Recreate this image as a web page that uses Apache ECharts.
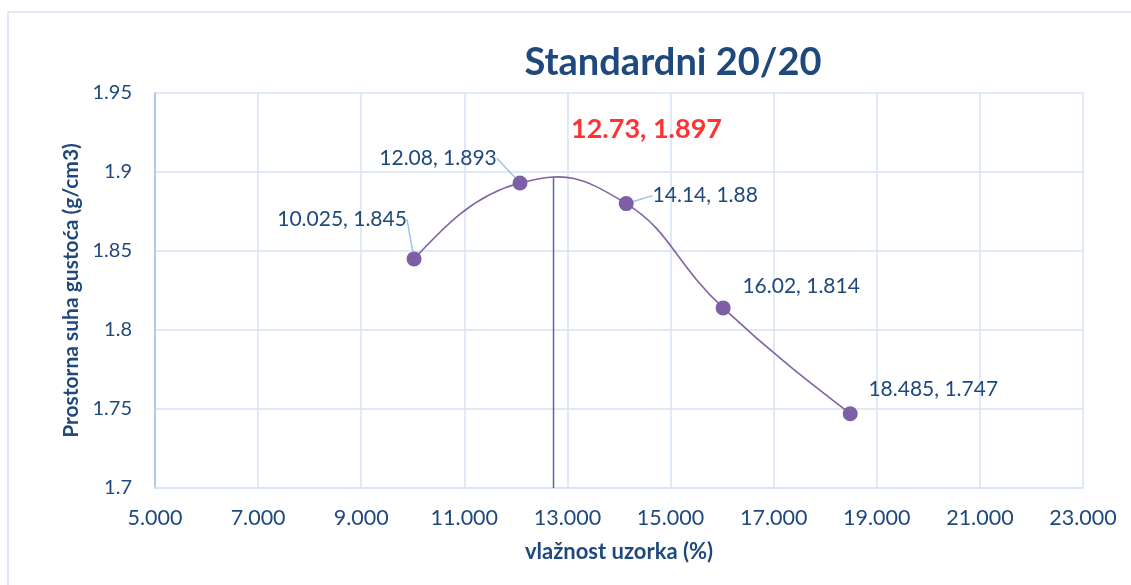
<!DOCTYPE html>
<html><head><meta charset="utf-8">
<script src="https://cdn.jsdelivr.net/npm/echarts@6/dist/echarts.min.js"></script>
<style>html,body{margin:0;padding:0;background:#fff}#c{width:1131px;height:585px}</style>
</head><body><div id="c"></div>
<script>
// ---- data ----
const moisture = [10.025, 12.08, 14.14, 16.02, 18.485];
const density = [1.845, 1.893, 1.88, 1.814, 1.747];
const pointLabels = ['10.025, 1.845', '12.08, 1.893', '14.14, 1.88', '16.02, 1.814', '18.485, 1.747'];
const optimumMoisture = 12.73;
const optimumDensity = 1.897;
const optimumLabel = '12.73, 1.897';
const xMin = 5, xMax = 23, xStep = 2;
const yMin = 1.7, yMax = 1.95, yStep = 0.05;
const titleText = 'Standardni 20/20';
const xName = 'vlažnost uzorka (%)';
const yName = 'Prostorna suha gustoća (g/cm3)';

// ---- styling ----
const TXT = '#1f497d';
const FONT = 'Lato';
const labelOffsets = [[-72, -40], [-82, -25], [79, -8], [78, -22], [83, -25]];
const showLeader = [true, true, true, false, false];
const TENSION = 0.22;

const chart = echarts.init(document.getElementById('c'), null, {renderer: 'canvas'});
const pts = moisture.map((x, i) => ({
  value: [x, density[i]],
  label: {formatter: pointLabels[i]},
  labelLine: {show: showLeader[i]}
}));

// Excel-like smoothed curve through the data points (drawn in pixel space via the axes)
function renderCurve(params, api) {
  if (params.dataIndex !== 0) return null;
  const P = moisture.map((x, i) => api.coord([x, density[i]]));
  const n = P.length;
  const m = [];
  for (let i = 1; i < n - 1; i++) {
    m[i] = [3 * TENSION * (P[i + 1][0] - P[i - 1][0]), 3 * TENSION * (P[i + 1][1] - P[i - 1][1])];
  }
  m[0] = [(3 * (P[1][0] - P[0][0]) - m[1][0]) / 2, (3 * (P[1][1] - P[0][1]) - m[1][1]) / 2];
  m[n - 1] = [(3 * (P[n - 1][0] - P[n - 2][0]) - m[n - 2][0]) / 2, (3 * (P[n - 1][1] - P[n - 2][1]) - m[n - 2][1]) / 2];
  let d = 'M' + P[0][0] + ' ' + P[0][1];
  for (let i = 0; i < n - 1; i++) {
    const c1 = [P[i][0] + m[i][0] / 3, P[i][1] + m[i][1] / 3];
    const c2 = [P[i + 1][0] - m[i + 1][0] / 3, P[i + 1][1] - m[i + 1][1] / 3];
    d += ' C' + c1[0] + ' ' + c1[1] + ' ' + c2[0] + ' ' + c2[1] + ' ' + P[i + 1][0] + ' ' + P[i + 1][1];
  }
  return {
    type: 'path',
    shape: {pathData: d},
    style: {fill: null, stroke: '#8064a2', lineWidth: 1.6}
  };
}

chart.setOption({
  backgroundColor: '#fff',
  animation: false,
  graphic: [{
    type: 'rect', shape: {x: 8, y: 12, width: 1300, height: 800},
    style: {fill: 'none', stroke: '#d9e2f3', lineWidth: 1.5}, silent: true, z: -10
  }],
  title: {
    text: titleText, left: 668, top: 39, textAlign: 'center',
    textStyle: {fontFamily: FONT, fontWeight: 'bold', fontSize: 38, color: TXT}
  },
  grid: {left: 155, right: 48, top: 93, bottom: 97},
  xAxis: {
    type: 'value', min: xMin, max: xMax, interval: xStep,
    name: xName, nameLocation: 'middle', nameGap: 53,
    nameTextStyle: {fontFamily: FONT, fontWeight: 'bold', fontSize: 22, color: TXT},
    axisLine: {show: true, lineStyle: {color: '#d6e2f3', width: 1.5}},
    axisTick: {show: false},
    axisLabel: {fontFamily: FONT, fontSize: 21.5, color: TXT, margin: 19,
      formatter: v => v.toFixed(3)},
    splitLine: {show: true, lineStyle: {color: '#d6e2f3', width: 1.5}}
  },
  yAxis: {
    type: 'value', min: yMin, max: yMax, interval: yStep,
    name: yName, nameLocation: 'middle', nameGap: 73, nameRotate: 90,
    nameTextStyle: {fontFamily: FONT, fontWeight: 'bold', fontSize: 21, color: TXT},
    axisLine: {show: true, lineStyle: {color: '#9fbfe6', width: 1.5}},
    axisTick: {show: false},
    axisLabel: {fontFamily: FONT, fontSize: 20, color: TXT, margin: 23,
      formatter: v => String(parseFloat(v.toFixed(2)))},
    splitLine: {show: true, lineStyle: {color: '#d6e2f3', width: 1.5}}
  },
  series: [
    {
      type: 'line', silent: true, showSymbol: false, z: 2,
      data: [[optimumMoisture, yMin], [optimumMoisture, optimumDensity]],
      lineStyle: {color: '#4a6ea9', width: 1.5}
    },
    {
      type: 'custom', silent: true, z: 3,
      data: moisture.map((x, i) => [x, density[i]]),
      renderItem: renderCurve
    },
    {
      type: 'line', z: 4,
      data: pts,
      symbol: 'circle', symbolSize: 15,
      itemStyle: {color: '#7d5fa6'},
      lineStyle: {opacity: 0},
      label: {show: true, position: 'inside', fontFamily: FONT, fontSize: 21, color: TXT},
      labelLine: {show: true, lineStyle: {color: '#9dc3e6', width: 1.5}},
      labelLayout: p => ({dx: labelOffsets[p.dataIndex][0], dy: labelOffsets[p.dataIndex][1], hideOverlap: false})
    },
    {
      type: 'scatter', silent: true, symbolSize: 0, z: 5,
      data: [[optimumMoisture, optimumDensity]],
      label: {show: true, position: 'inside', offset: [93, -47], formatter: optimumLabel,
        fontFamily: FONT, fontWeight: 'bold', fontSize: 27, color: '#ff0000'}
    }
  ]
});
</script></body></html>
